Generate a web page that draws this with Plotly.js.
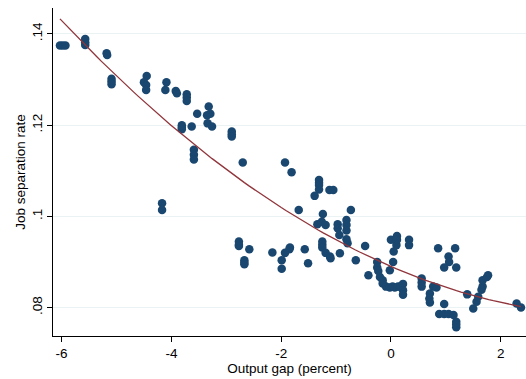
<!DOCTYPE html>
<html>
<head>
<meta charset="utf-8">
<script src="https://cdn.plot.ly/plotly-3.0.1.min.js"></script>
<style>html,body{margin:0;padding:0;background:#fff;}#chart{width:526px;height:379px;}</style>
</head>
<body>
<div id="chart"></div>
<script>
// Output gap (percent)
var outputGap = [
  -6.03,-5.98,-5.93,
  -5.57,-5.57,-5.57,
  -5.18,-5.17,
  -5.09,-5.09,-5.09,
  -4.45,-4.50,-4.46,-4.46,
  -4.09,-4.11,
  -3.92,-3.90,
  -3.72,-3.72,-3.72,
  -3.53,
  -3.32,-3.35,-3.29,-3.34,-3.26,
  -3.81,-3.81,-3.81,
  -3.63,
  -3.59,-3.59,-3.59,
  -2.90,-2.90,-2.90,
  -2.70,
  -4.17,-4.17,
  -2.77,-2.77,-2.77,
  -2.58,
  -2.67,-2.67,-2.67,
  -1.93,-1.81,
  -1.31,-1.31,-1.31,-1.31,
  -1.39,
  -1.12,-1.05,
  -1.68,
  -1.24,
  -0.73,
  -1.34,-1.26,-1.19,
  -0.97,-0.97,-0.94,
  -0.81,-0.81,-0.81,-0.81,-0.79,
  -2.16,
  -1.99,-1.99,
  -1.93,-1.85,-1.84,
  -1.57,
  -1.51,
  -1.25,-1.25,-1.25,-1.19,-1.11,-1.10,
  -0.93,
  -0.47,
  -0.64,
  -0.41,
  -0.25,-0.25,-0.23,
  -0.20,-0.15,-0.15,-0.09,-0.02,0.03,0.07,0.13,0.17,0.22,0.22,0.22,
  -0.02,0.04,0.05,0.10,0.11,0.00,0.11,
  0.33,0.33,
  0.56,0.56,0.56,
  0.77,0.71,0.70,0.71,0.83,
  0.86,1.17,
  1.05,1.06,0.97,1.19,
  0.97,0.88,0.97,1.05,1.14,1.19,1.19,1.19,
  1.39,
  1.50,1.56,1.59,
  1.65,1.67,1.67,1.77,1.75,
  2.29,2.37
];
// Job separation rate
var sepRate = [
  0.1375,0.1375,0.1375,
  0.1389,0.1382,0.1376,
  0.1358,0.1354,
  0.1302,0.1296,0.1290,
  0.1308,0.1294,0.1288,0.1277,
  0.1294,0.1277,
  0.1275,0.1270,
  0.1268,0.1261,0.1253,
  0.1225,
  0.1241,0.1222,0.1225,0.1204,0.1197,
  0.1200,0.1195,0.1191,
  0.1197,
  0.1146,0.1135,0.1125,
  0.1186,0.1180,0.1175,
  0.1118,
  0.1029,0.1014,
  0.0945,0.0938,0.0935,
  0.0928,
  0.0904,0.0899,0.0895,
  0.1118,0.1097,
  0.1080,0.1074,0.1069,0.1059,
  0.1045,
  0.1058,0.1058,
  0.1014,
  0.1005,
  0.1014,
  0.0983,0.0988,0.0981,
  0.0983,0.0974,0.0959,
  0.0992,0.0981,0.0969,0.0950,0.0941,
  0.0921,
  0.0904,0.0885,
  0.0920,0.0928,0.0932,
  0.0928,
  0.0897,
  0.0945,0.0938,0.0932,0.0920,0.0912,0.0908,
  0.0919,
  0.0935,
  0.0904,
  0.0871,
  0.0900,0.0888,0.0880,
  0.0867,0.0853,0.0860,0.0846,0.0844,0.0846,0.0844,0.0846,0.0846,0.0852,0.0838,0.0828,
  0.0882,0.0900,0.0923,0.0937,0.0957,0.0949,0.0949,
  0.0949,0.0937,
  0.0864,0.0855,0.0846,
  0.0846,0.0831,0.0820,0.0811,0.0844,
  0.0930,0.0930,
  0.0912,0.0900,0.0888,0.0888,
  0.0808,0.0786,0.0786,0.0786,0.0784,0.0769,0.0757,0.0763,
  0.0829,
  0.0798,0.0813,0.0824,
  0.0839,0.0846,0.0860,0.0871,0.0867,
  0.0809,0.0800
];
var xTickVals = [-6,-4,-2,0,2];
var xTickText = ['-6','-4','-2','0','2'];
var yTickVals = [0.08,0.10,0.12,0.14];
var yTickText = ['.08','.1','.12','.14'];

// Quadratic least-squares fit (like Stata's qfit) computed from the data
function qfit(xs, ys){
  var S=[0,0,0,0,0], T=[0,0,0];
  for(var i=0;i<xs.length;i++){
    var x=xs[i], y=ys[i], p=1;
    for(var k=0;k<5;k++){ S[k]+=p; if(k<3) T[k]+=p*y; p*=x; }
  }
  var A=[[S[0],S[1],S[2],T[0]],[S[1],S[2],S[3],T[1]],[S[2],S[3],S[4],T[2]]];
  for(var c=0;c<3;c++){
    for(var r=c+1;r<3;r++){
      var f=A[r][c]/A[c][c];
      for(var j=c;j<4;j++) A[r][j]-=f*A[c][j];
    }
  }
  var b=[0,0,0];
  for(var r2=2;r2>=0;r2--){
    var s=A[r2][3];
    for(var j2=r2+1;j2<3;j2++) s-=A[r2][j2]*b[j2];
    b[r2]=s/A[r2][r2];
  }
  return b;
}
var coef = qfit(outputGap, sepRate);
var xmin = Math.min.apply(null, outputGap), xmax = Math.max.apply(null, outputGap);
var fitX = [], fitY = [];
for(var i=0;i<=100;i++){
  var xv = xmin + (xmax-xmin)*i/100;
  fitX.push(xv);
  fitY.push(coef[0]+coef[1]*xv+coef[2]*xv*xv);
}

var font = {family:'"Liberation Sans", Arial, Helvetica, sans-serif', size:13.5, color:'#000'};

var traces = [
  {x: outputGap, y: sepRate, type:'scatter', mode:'markers',
   marker:{color:'#1a476f', size:8.5, line:{width:0}}, hoverinfo:'skip'},
  {x: fitX, y: fitY, type:'scatter', mode:'lines',
   line:{color:'#90353b', width:1.3}, hoverinfo:'skip'}
];

var layout = {
  width:526, height:379,
  margin:{l:53, r:0, t:8, b:43},
  paper_bgcolor:'#fff', plot_bgcolor:'#fff',
  showlegend:false,
  font: font,
  xaxis:{
    range:[-6.157, 2.461], tickmode:'array', tickvals:xTickVals, ticktext:xTickText,
    ticks:'outside', ticklen:5, tickwidth:1, tickcolor:'#000',
    showline:true, linecolor:'#000', linewidth:1,
    showgrid:false, zeroline:false, automargin:false,
    tickfont:font,
    title:{text:'Output gap (percent)', font:font, standoff:0}
  },
  yaxis:{
    range:[0.07377, 0.1457], tickmode:'array', tickvals:yTickVals, ticktext:yTickText,
    tickangle:-90,
    ticks:'outside', ticklen:5, tickwidth:1, tickcolor:'#000',
    showline:true, linecolor:'#000', linewidth:1,
    showgrid:true, gridcolor:'#eaf2f3', gridwidth:1, zeroline:false, automargin:false,
    tickfont:font,
    title:{text:'Job separation rate', font:font, standoff:0}
  }
};

Plotly.newPlot('chart', traces, layout, {staticPlot:true, displayModeBar:false});
</script>
</body>
</html>
